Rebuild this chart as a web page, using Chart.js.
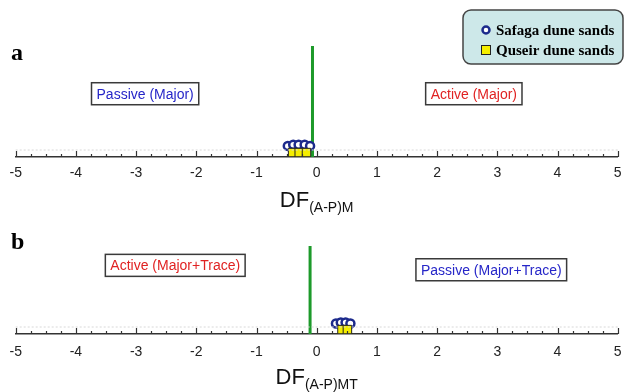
<!DOCTYPE html>
<html>
<head>
<meta charset="utf-8">
<script src="https://cdn.jsdelivr.net/npm/chart.js@4.4.0/dist/chart.umd.min.js"></script>
<style>
  body { margin: 0; background: #fff; }
  #wrap { position: relative; width: 626px; height: 392px; }
  canvas { position: absolute; left: 0; }
</style>
</head>
<body>
<div id="wrap">
  <canvas id="chart-a" width="626" height="215" style="top:0"></canvas>
  <canvas id="chart-b" width="626" height="177" style="top:215px"></canvas>
</div>
<script>
// Discriminant function scores, major elements (a) and major + trace (b)
const xTicks = [-5, -4, -3, -2, -1, 0, 1, 2, 3, 4, 5];

const safagaA = [-0.48, -0.39, -0.30, -0.20, -0.11];
const safagaAHeight = [10, 11, 11, 11, 10];
const quseirA = [-0.40, -0.29, -0.17];
const quseirAHeight = [4, 4, 4];
const cutoffA = -0.07;

const safagaB = [0.32, 0.40, 0.48, 0.56];
const safagaBHeight = [12, 13, 13, 12];
const quseirB = [0.42, 0.51];
const quseirBHeight = [5, 5];
const cutoffB = -0.11;

const legendLabels = ['Safaga dune sands', 'Quseir dune sands'];

const SANS = '"Liberation Sans", Arial, sans-serif';
const SERIF = '"Liberation Serif", "Times New Roman", serif';

const circleStyle = { pointStyle: 'circle', pointRadius: 4, borderWidth: 2.5, borderColor: '#1c2a8c', backgroundColor: '#ffffff' };
const squareStyle = { pointStyle: 'rect', pointRadius: 6, borderWidth: 1, borderColor: '#222', backgroundColor: '#f5ee00' };

function toPoints(xs, ys) {
    return xs.map((x, i) => ({ x: x, y: ys[i] }));
}

// Ticks on the axis (pointing up), boxed captions, subscripted title, legend
const panelDecor = {
    id: 'panelDecor',
    afterDraw(chart, args, opts) {
        const ctx = chart.ctx;
        const xs = chart.scales.x;
        const ys = chart.scales.y;
        const axisY = chart.chartArea.bottom;
        ctx.save();

        // faint dotted guide just above the axis
        ctx.strokeStyle = '#d8d8d8';
        ctx.lineWidth = 1;
        ctx.setLineDash([2, 2]);
        ctx.beginPath();
        ctx.moveTo(xs.left, axisY - 7);
        ctx.lineTo(xs.right, axisY - 7);
        ctx.stroke();
        ctx.setLineDash([]);

        // major and minor tick marks
        ctx.strokeStyle = '#333';
        ctx.lineWidth = 1.2;
        for (let v = xs.min; v <= xs.max + 1e-9; v += 0.25) {
            const px = Math.round(xs.getPixelForValue(v)) + 0.5;
            const len = Math.abs(v - Math.round(v)) < 1e-6 ? 6 : 3;
            ctx.beginPath();
            ctx.moveTo(px, axisY);
            ctx.lineTo(px, axisY - len);
            ctx.stroke();
        }

        // boxed region captions
        ctx.font = '14px ' + SANS;
        ctx.textAlign = 'center';
        ctx.textBaseline = 'middle';
        opts.boxes.forEach(b => {
            const cx = xs.getPixelForValue(b.x);
            const cy = ys.getPixelForValue(b.y);
            const w = ctx.measureText(b.text).width + 10;
            const h = 22;
            ctx.fillStyle = '#fff';
            ctx.fillRect(cx - w / 2, cy - h / 2, w, h);
            ctx.strokeStyle = '#3a3a3a';
            ctx.lineWidth = 1.5;
            ctx.strokeRect(cx - w / 2, cy - h / 2, w, h);
            ctx.fillStyle = b.color;
            ctx.fillText(b.text, cx, cy + 1);
        });

        // axis title with subscript
        const mid = (xs.left + xs.right) / 2;
        ctx.textAlign = 'left';
        ctx.textBaseline = 'alphabetic';
        ctx.font = '22px ' + SANS;
        const mainW = ctx.measureText('DF').width;
        ctx.font = '14px ' + SANS;
        const subW = ctx.measureText(opts.sub).width;
        const startX = mid - (mainW + subW) / 2;
        const baseY = chart.height - 8;
        ctx.fillStyle = '#111';
        ctx.font = '22px ' + SANS;
        ctx.fillText('DF', startX, baseY);
        ctx.font = '14px ' + SANS;
        ctx.fillText(opts.sub, startX + mainW, baseY + 5);

        // panel letter
        ctx.font = 'bold 24px ' + SERIF;
        ctx.fillStyle = '#000';
        ctx.fillText(opts.letter, 11, opts.letterY);

        if (opts.legend) {
            const lx = 463, ly = 10, lw = 160, lh = 54, r = 8;
            ctx.beginPath();
            ctx.roundRect(lx, ly, lw, lh, r);
            ctx.fillStyle = '#cde8e9';
            ctx.fill();
            ctx.strokeStyle = '#444';
            ctx.lineWidth = 1.5;
            ctx.stroke();

            const styles = [circleStyle, squareStyle];
            styles.forEach((s, i) => {
                const my = 30 + i * 20;
                ctx.lineWidth = i === 0 ? 2.5 : 1;
                ctx.strokeStyle = s.borderColor;
                ctx.fillStyle = s.backgroundColor;
                if (s.pointStyle === 'circle') {
                    ctx.beginPath();
                    ctx.arc(486, my, 3.5, 0, Math.PI * 2);
                    ctx.fill();
                    ctx.stroke();
                } else {
                    ctx.fillRect(481.5, my - 4.5, 9, 9);
                    ctx.strokeRect(481.5, my - 4.5, 9, 9);
                }
                ctx.fillStyle = '#000';
                ctx.font = 'bold 15px ' + SERIF;
                ctx.textBaseline = 'middle';
                ctx.fillText(legendLabels[i], 496, my + 1);
            });
        }
        ctx.restore();
    }
};

function makePanel(canvasId, safaga, safagaY, quseir, quseirY, cutoff, topPad, labelPad, decor) {
    const ctx = document.getElementById(canvasId).getContext('2d');
    return new Chart(ctx, {
        type: 'scatter',
        data: {
            datasets: [
                Object.assign({ label: legendLabels[1], data: toPoints(quseir, quseirY) }, squareStyle),
                Object.assign({ label: legendLabels[0], data: toPoints(safaga, safagaY) }, circleStyle),
                {
                    label: 'cutoff',
                    data: [{ x: cutoff, y: 0 }, { x: cutoff, y: 100 }],
                    showLine: true,
                    pointRadius: 0,
                    borderColor: '#1d9a2a',
                    borderWidth: 3
                }
            ]
        },
        options: {
            responsive: false,
            animation: false,
            layout: { padding: { top: topPad, left: 15.7, right: 8.3, bottom: 0 } },
            plugins: {
                legend: { display: false },
                tooltip: { enabled: false },
                panelDecor: decor
            },
            scales: {
                x: {
                    type: 'linear',
                    min: -5,
                    max: 5,
                    afterBuildTicks: scale => { scale.ticks = xTicks.map(v => ({ value: v })); },
                    afterFit: scale => {
                        scale.height = 58;
                        // let the layout padding alone decide the side margins
                        scale.paddingLeft = 0;
                        scale.paddingRight = 0;
                    },
                    grid: { display: false, drawTicks: false },
                    border: { display: true, color: '#333', width: 1.5 },
                    ticks: {
                        padding: labelPad,
                        color: '#222',
                        font: { family: SANS, size: 14 }
                    }
                },
                y: { display: false, min: 0, max: 100 }
            }
        },
        plugins: [panelDecor]
    });
}

makePanel('chart-a', safagaA, safagaAHeight, quseirA, quseirAHeight, cutoffA, 46, 8, {
    letter: 'a',
    letterY: 60,
    sub: '(A-P)M',
    legend: true,
    boxes: [
        { text: 'Passive (Major)', x: -2.85, y: 57, color: '#2626c8' },
        { text: 'Active (Major)', x: 2.61, y: 57, color: '#e02222' }
    ]
});

makePanel('chart-b', safagaB, safagaBHeight, quseirB, quseirBHeight, cutoffB, 31, 10, {
    letter: 'b',
    letterY: 34,
    sub: '(A-P)MT',
    legend: false,
    boxes: [
        { text: 'Active (Major+Trace)', x: -2.35, y: 78, color: '#e02222' },
        { text: 'Passive (Major+Trace)', x: 2.9, y: 73, color: '#2626c8' }
    ]
});
</script>
</body>
</html>
